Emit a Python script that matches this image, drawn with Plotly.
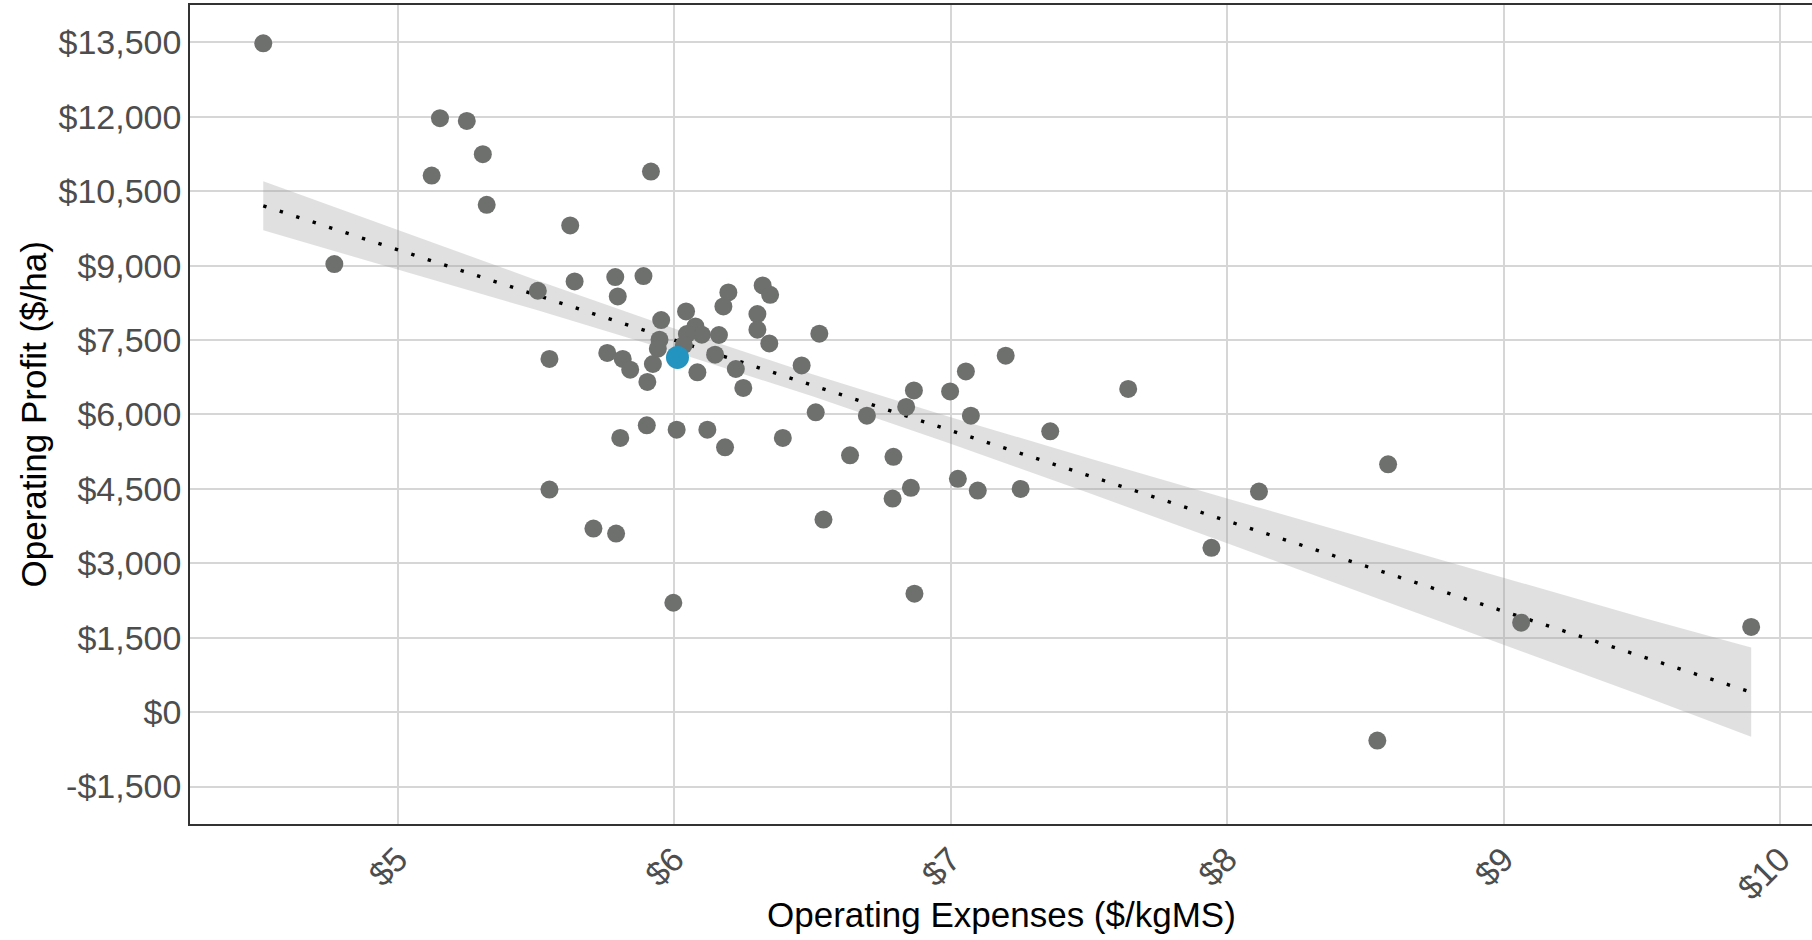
import numpy as np
import plotly.graph_objects as go

# Operating expenses ($/kgMS) and operating profit ($/ha) for each farm
opex = [4.514, 4.771, 5.153, 5.250, 5.308, 5.123, 5.322, 5.916, 5.624,
        5.507, 5.640, 5.787, 5.889, 5.796,
        6.196, 6.178, 6.320, 6.347, 6.043, 5.953, 6.301, 6.301, 6.344,
        6.077, 6.100, 6.046, 6.162, 5.947, 5.941, 6.035,
        5.758, 5.814, 5.841, 5.549,
        5.923, 5.903, 6.084, 6.148, 6.223, 6.250,
        6.525, 6.461, 6.512, 6.697, 6.839, 6.867, 6.998, 7.055, 7.073, 7.199,
        5.901, 5.805, 6.009, 6.120, 6.184, 6.393, 6.636, 6.793,
        5.549, 6.856, 6.790, 7.026, 7.098,
        5.708, 5.790, 6.540, 5.997, 6.869,
        7.642, 7.360, 7.253, 8.115, 8.582, 7.943, 8.543, 9.063, 9.895]
profit = [13480, 9030, 11970, 11916, 11245, 10814, 10224, 10895, 9810,
          8493, 8680, 8769, 8789, 8378,
          8459, 8177, 8600, 8412, 8076, 7903, 8024, 7708, 7432,
          7774, 7607, 7621, 7601, 7506, 7325, 7400,
          7239, 7118, 6902, 7118,
          7017, 6655, 6848, 7204, 6916, 6534,
          7627, 6989, 6043, 5976, 6151, 6485, 6465, 6868, 5976, 7184,
          5781, 5527, 5694, 5694, 5338, 5527, 5177, 5145,
          4486, 4521, 4305, 4702, 4466,
          3701, 3600, 3882, 2205, 2387,
          6514, 5660, 4500, 4446, 4996, 3313, -573, 1804, 1718]

# Highlighted farm
focus_opex = [6.012]
focus_profit = [7150]

# Linear trend and its confidence band
trend_x = [4.514, 5.0, 5.5, 6.0, 6.5, 7.0, 7.5, 8.0, 8.5, 9.0, 9.5, 9.895]
trend_y = [10206, 9321, 8410, 7499, 6588, 5677, 4766, 3855, 2944, 2033, 1122, 402]
band_half = [496, 394, 301, 235, 221, 268, 351, 452, 560, 673, 788, 900]

y_ticks = [-1500, 0, 1500, 3000, 4500, 6000, 7500, 9000, 10500, 12000, 13500]
x_ticks = [5, 6, 7, 8, 9, 10]


def money(v):
    return ("-$" if v < 0 else "$") + f"{abs(v):,}"


tx = np.array(trend_x)
ty = np.array(trend_y)
hw = np.array(band_half)
band_hi = ty + hw
band_lo = ty - hw

fig = go.Figure()
fig.add_trace(go.Scatter(
    x=np.concatenate([tx, tx[::-1]]), y=np.concatenate([band_hi, band_lo[::-1]]),
    fill="toself", fillcolor="rgba(160,160,160,0.32)", line=dict(width=0),
    mode="lines", hoverinfo="skip", showlegend=False))
fig.add_trace(go.Scatter(
    x=tx, y=ty, mode="lines",
    line=dict(color="black", width=3.4, dash="3.4px,13.9px"),
    showlegend=False))
fig.add_trace(go.Scatter(
    x=opex, y=profit, mode="markers",
    marker=dict(color="#6e706e", size=18, line=dict(width=0)),
    showlegend=False))
fig.add_trace(go.Scatter(
    x=focus_opex, y=focus_profit, mode="markers",
    marker=dict(color="#2394c0", size=23, line=dict(width=0)),
    showlegend=False))

font_family = "Liberation Sans, Arial, sans-serif"
tick_font = dict(family=font_family, size=34, color="#4d4d4d")
title_font = dict(family=font_family, size=35, color="black")

fig.update_layout(
    width=1812, height=940,
    margin=dict(l=190, r=0, t=5, b=116, autoexpand=False),
    paper_bgcolor="white", plot_bgcolor="white",
    annotations=[
        dict(text="Operating Expenses ($/kgMS)", xref="paper", yref="paper",
             x=0.5, y=-0.1111, xanchor="center", yanchor="middle",
             showarrow=False, font=title_font),
        dict(text="Operating Profit ($/ha)", xref="paper", yref="paper",
             x=-0.0962, y=0.5, xanchor="center", yanchor="middle",
             textangle=-90, showarrow=False, font=title_font),
    ],
)
fig.update_xaxes(
    range=[4.249, 10.115], tickvals=x_ticks, ticktext=[money(v) for v in x_ticks],
    tickangle=-45, tickfont=tick_font, ticks="", automargin=False,
    showgrid=True, gridcolor="#d6d6d6", gridwidth=1.5, zeroline=False,
    showline=True, linecolor="#333333", linewidth=1.6, mirror=True,
)
fig.update_yaxes(
    range=[-2254, 14252], tickvals=y_ticks, ticktext=[money(v) for v in y_ticks],
    tickfont=tick_font, ticks="", ticklabelstandoff=0, automargin=False,
    showgrid=True, gridcolor="#d6d6d6", gridwidth=1.5, zeroline=False,
    showline=True, linecolor="#333333", linewidth=1.6,
)

fig.write_html(
    "out.html",
    config={"displayModeBar": False},
    post_script=("document.documentElement.style.overflow='hidden';"
                 "document.body.style.overflow='hidden';"
                 "document.body.style.margin='0';"),
)
